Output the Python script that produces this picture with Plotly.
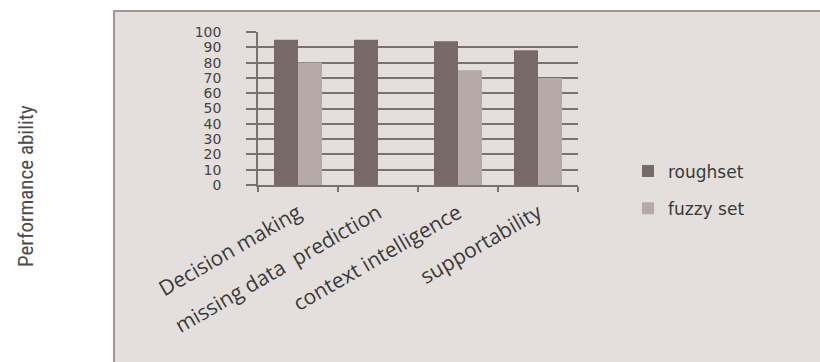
import plotly.graph_objects as go

categories = ["Decision making", "missing data  prediction", "context intelligence", "supportability"]
roughset = [95, 95, 94, 88]
fuzzy_set = [80, None, 75, 70]
y_ticks = [0, 10, 20, 30, 40, 50, 60, 70, 80, 90, 100]

W, H = 820, 362
L, R, T, B = 258, 578, 32, 185
pw, ph = R - L, B - T

def px(x):
    return (x - L) / pw

def py(y):
    return (B - y) / ph

grid = "#7d6f6b"

fig = go.Figure()
fig.add_trace(go.Bar(x=categories, y=roughset, name="roughset", marker_color="#786a66",
                     marker_line_width=0, legendgroup="a"))
fig.add_trace(go.Bar(x=categories, y=fuzzy_set, name="fuzzy set", marker_color="#b5aaa7",
                     marker_line_width=0, legendgroup="b"))

fig.add_shape(type="rect", xref="paper", yref="paper", layer="below",
              x0=px(114), x1=px(830), y0=py(372), y1=py(11),
              fillcolor="#e4dfdc", line=dict(color="#a09794", width=2))

fig.add_annotation(text="Performance ability", xref="paper", yref="paper",
                   x=px(26), y=py(186), textangle=-90, showarrow=False,
                   xanchor="center", yanchor="middle",
                   font=dict(family="Roboto Condensed, Liberation Sans Narrow, Roboto", size=21, color="#4a4a4a"))

fig.update_layout(
    width=W, height=H,
    margin=dict(l=L, r=W - R, t=T, b=H - B, pad=0),
    paper_bgcolor="white", plot_bgcolor="rgba(0,0,0,0)",
    barmode="group", bargap=0.4, bargroupgap=0,
    showlegend=True,
    legend=dict(x=px(628), y=py(190), xanchor="left", yanchor="middle",
                bgcolor="rgba(0,0,0,0)", traceorder="grouped", tracegroupgap=12,
                font=dict(family="DejaVu Sans", size=17, color="#3a3a3a")),
)
fig.update_yaxes(range=[0, 100], tickvals=y_ticks, showgrid=True, gridcolor=grid, gridwidth=1.5,
                 showline=True, linecolor=grid, linewidth=1.5, ticks="outside", ticklen=10,
                 tickcolor=grid, tickwidth=1.5, ticklabelstandoff=22, zeroline=False,
                 tickfont=dict(family="DejaVu Sans", size=14, color="#444"))
fig.update_xaxes(showline=True, linecolor=grid, linewidth=1.5, ticks="outside", tickson="boundaries",
                 ticklen=5, tickcolor=grid, tickwidth=1.5, tickangle=-30, showgrid=False,
                 ticklabelstandoff=6,
                 tickfont=dict(family="Open Sans", size=21, color="#3a3a3a"))

fig.write_html("out.html")
